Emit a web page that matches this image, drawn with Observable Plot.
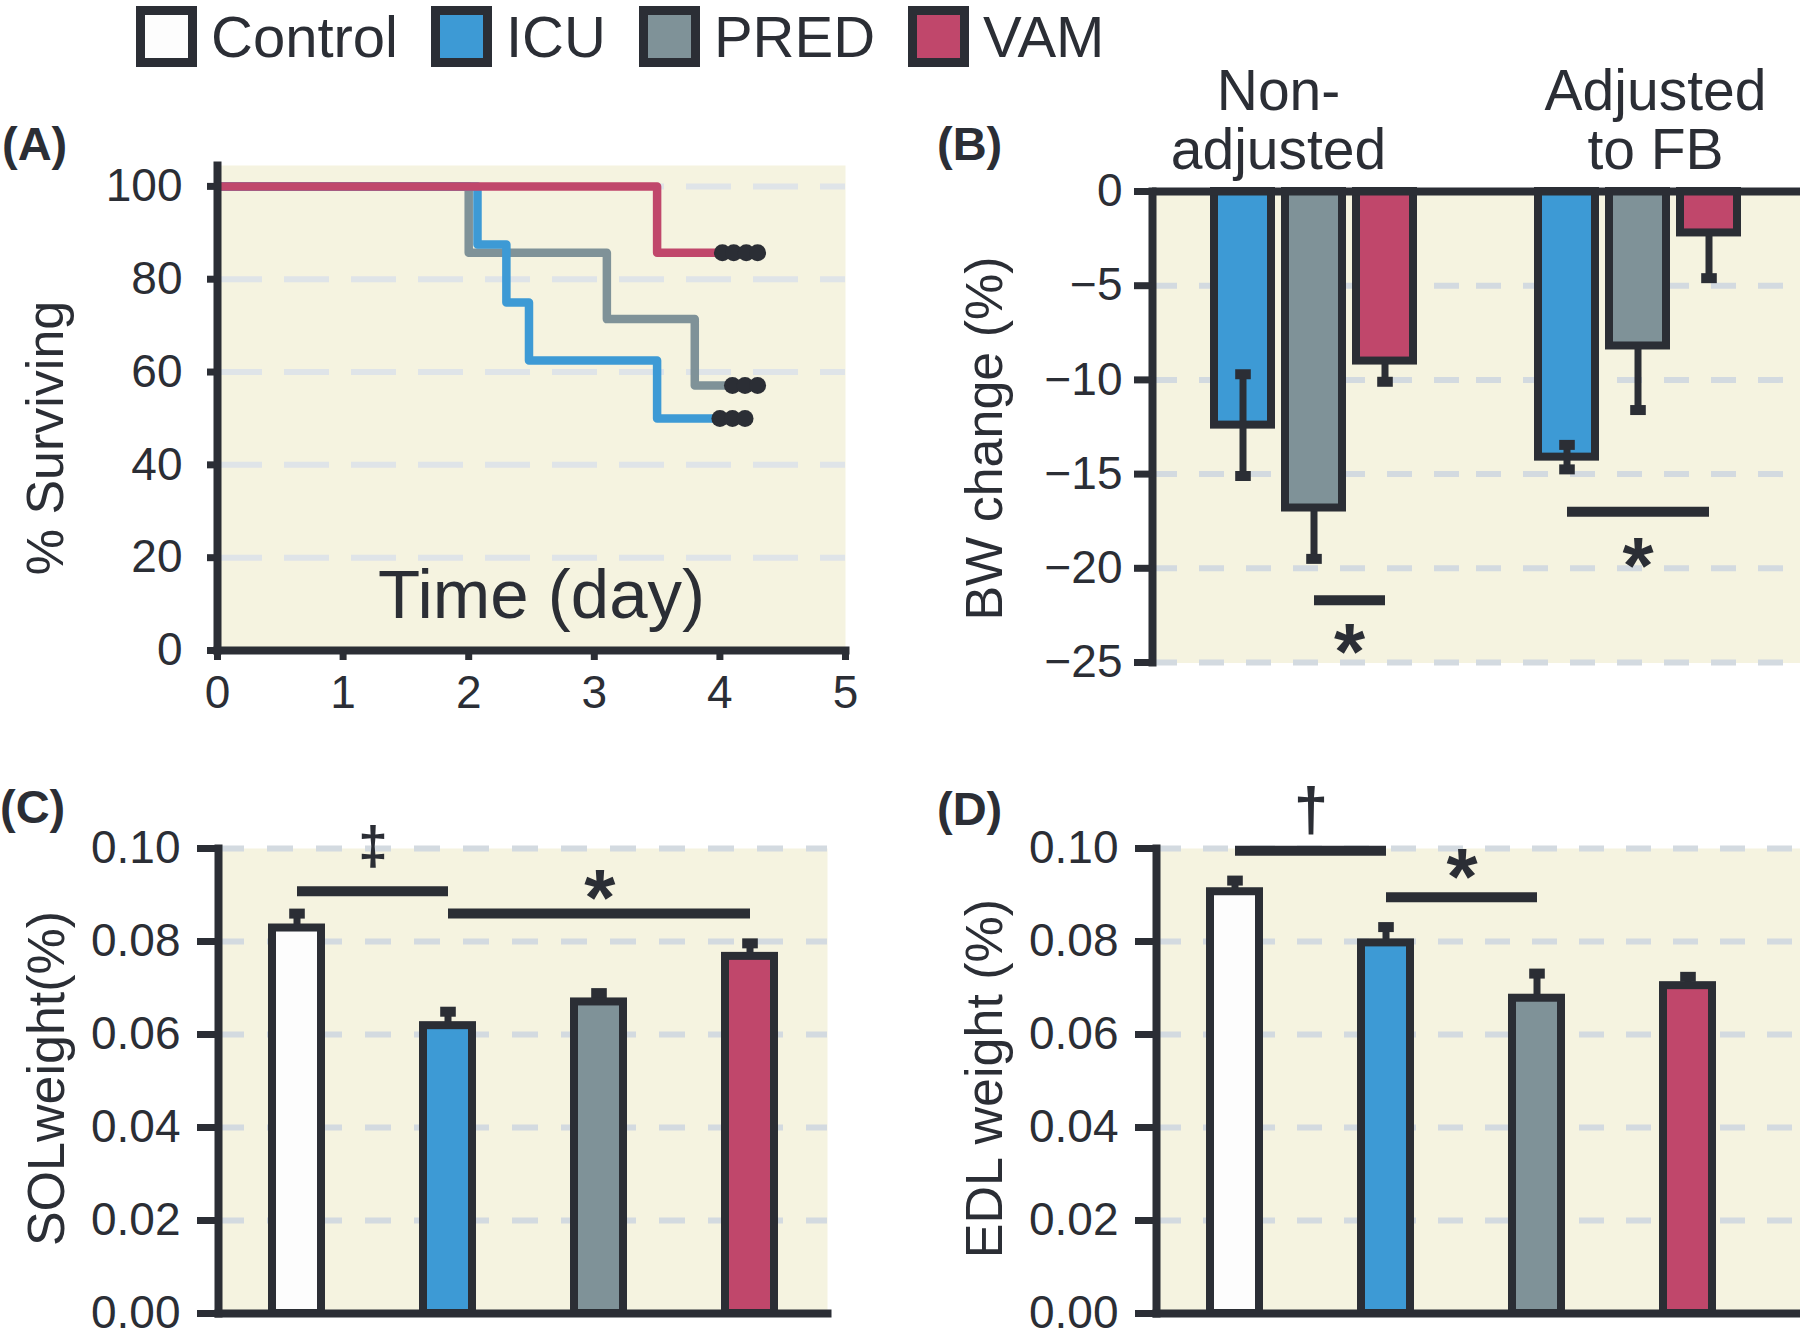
<!DOCTYPE html>
<html>
<head>
<meta charset="utf-8">
<script src="https://cdn.jsdelivr.net/npm/d3@7"></script>
<script src="https://cdn.jsdelivr.net/npm/@observablehq/plot@0.6"></script>
<style>
  html, body { margin: 0; padding: 0; background: #ffffff; }
  #root { position: relative; width: 1800px; height: 1328px; overflow: hidden; background: #ffffff;
          font-family: "Liberation Sans", Arial, Helvetica, sans-serif; color: #2b2e35; }
  .tag { position: absolute; font-weight: bold; font-size: 47px; line-height: 1; color: #2b2e35; }
  .lg-swatch { margin-right: 33px !important; }
  .lg-swatch > svg { box-sizing: border-box; border: 9px solid #2b2e35; margin-right: 14px !important; }
</style>
</head>
<body>
<div id="root"></div>
<script>
// ---------------- data ----------------
const groups = ["Control", "ICU", "PRED", "VAM"];
const groupColors = ["#fdfdfd", "#3d9ad5", "#7f9298", "#c0476b"];

// (A) survival, step points (day, % surviving) and censor marks
const predSurvDay = [0, 2.0, 3.1, 3.8, 4.1];
const predSurvPct = [100, 85.7, 71.4, 57.1, 57.1];
const icuSurvDay = [0, 2.07, 2.3, 2.48, 3.5, 4.0];
const icuSurvPct = [100, 87.5, 75, 62.5, 50, 50];
const vamSurvDay = [0, 3.5, 4.02];
const vamSurvPct = [100, 85.7, 85.7];
const icuCensorDay = [4.0, 4.1, 4.2];
const predCensorDay = [4.1, 4.2, 4.3];
const vamCensorDay = [4.02, 4.11, 4.21, 4.3];
const survTicksX = [0, 1, 2, 3, 4, 5];
const survTicksY = [0, 20, 40, 60, 80, 100];

// (B) body weight change (%)
const bwConditions = ["Non-adjusted", "Adjusted to FB"];
const bwConditionLabels = ["Non-\nadjusted", "Adjusted\nto FB"];
const bwGroups = ["ICU", "PRED", "VAM"];
const bwNonAdjMean = [-12.4, -16.8, -9.0];
const bwNonAdjSE = [2.7, 2.7, 1.1];
const bwAdjMean = [-14.1, -8.2, -2.2];
const bwAdjSE = [0.65, 3.4, 2.4];
const bwErrorOnTop = ["ICU"];
const bwTicks = [0, -5, -10, -15, -20, -25];
const bwSigCondition = ["Non-adjusted", "Adjusted to FB"];
const bwSigFrom = ["PRED", "ICU"];
const bwSigTo = ["VAM", "VAM"];
const bwSigLevel = [-21.7, -17.0];
const bwSigSymbol = ["*", "*"];
const bwSigSymbolLevel = [-23.6, -19.0];

// (C) SOL weight (%)
const solMean = [0.0829, 0.0619, 0.0670, 0.0768];
const solSE = [0.0031, 0.0030, 0.0019, 0.0028];
const solSigFrom = ["Control", "ICU"];
const solSigTo = ["ICU", "VAM"];
const solSigLevel = [0.0908, 0.0860];
const solSigSymbol = ["\u2021", "*"];
const solSigSymbolLevel = [0.1006, 0.0929];

// (D) EDL weight (%)
const edlMean = [0.0907, 0.0797, 0.0678, 0.0705];
const edlSE = [0.0024, 0.0034, 0.0053, 0.0019];
const edlSigFrom = ["Control", "ICU"];
const edlSigTo = ["ICU", "PRED"];
const edlSigLevel = [0.0995, 0.0895];
const edlSigSymbol = ["\u2020", "*"];
const edlSigSymbolLevel = [0.1086, 0.0974];

const weightTicks = [0, 0.02, 0.04, 0.06, 0.08, 0.10];

// ---------------- styling ----------------
const dark = "#2b2e35";
const bgFill = "#f5f3e0";
const textFont = "'Liberation Sans', Arial, Helvetica, sans-serif";
const tickFont = 46;
const color = {domain: groups, range: groupColors};

const root = document.getElementById("root");
const svgStyle = (left, top) => ({
  position: "absolute", left: left + "px", top: top + "px",
  background: "transparent", overflow: "visible",
  fontFamily: textFont, color: dark, maxWidth: "none"
});

// custom cap symbol (wide rectangle) for error bars
const capSymbol = {draw(ctx, size) { const s = Math.sqrt(size); ctx.rect(-0.78 * s, -0.5 * s, 1.56 * s, s); }};
const capR = 10 / Math.sqrt(Math.PI);

function bandStep(width, n, pi, po) { return width / (n - pi + 2 * po); }

function symbolDy(sym, fs) {
  // shift so that the glyph's visual centre sits on the data value
  return sym === "*" ? 0.22 * fs : 0.02 * fs;
}
function symbolSize(sym) { return sym === "*" ? 80 : sym === "\u2020" ? 62 : 53; }

function sigMarks(rows, domain, step, fxKey) {
  const marks = [
    Plot.link(rows, {fx: fxKey, x1: "from", x2: "to", y1: "level", y2: "level", stroke: dark, strokeWidth: 10})
  ];
  for (const r of rows) {
    const fs = symbolSize(r.symbol);
    const dx = (domain.indexOf(r.to) - domain.indexOf(r.from)) / 2 * step;
    marks.push(Plot.text([r], {fx: fxKey, x: "from", y: "symbolLevel", text: "symbol", dx, dy: symbolDy(r.symbol, fs),
      fontSize: fs, fontWeight: "bold", fill: dark}));
  }
  return marks;
}

// ---------------- legend ----------------
const legend = Plot.legend({
  color: {type: "ordinal", domain: groups, range: groupColors},
  legend: "swatches",
  swatchSize: 61,
  className: "lg",
  style: {position: "absolute", left: "136px", top: "3px", margin: "0", fontSize: "58px",
          fontFamily: textFont, color: dark, minHeight: "61px"}
});
root.appendChild(legend);

// ---------------- panel tags ----------------
[["(A)", 2, 120], ["(B)", 937, 120], ["(C)", 0, 783], ["(D)", 937, 785]].forEach(([t, x, y]) => {
  const d = document.createElement("div");
  d.className = "tag"; d.textContent = t; d.style.left = x + "px"; d.style.top = y + "px";
  root.appendChild(d);
});

// ---------------- (A) survival ----------------
const survRows = [
  ...predSurvDay.map((d, i) => ({group: "PRED", day: d, pct: predSurvPct[i]})),
  ...icuSurvDay.map((d, i) => ({group: "ICU", day: d, pct: icuSurvPct[i]})),
  ...vamSurvDay.map((d, i) => ({group: "VAM", day: d, pct: vamSurvPct[i]}))
];
const censorRows = [
  ...icuCensorDay.map(d => ({group: "ICU", day: d, pct: icuSurvPct[icuSurvPct.length - 1]})),
  ...predCensorDay.map(d => ({group: "PRED", day: d, pct: predSurvPct[predSurvPct.length - 1]})),
  ...vamCensorDay.map(d => ({group: "VAM", day: d, pct: vamSurvPct[vamSurvPct.length - 1]}))
];

const panelA = Plot.plot({
  width: 900, height: 678,
  marginLeft: 217, marginRight: 55, marginTop: 103, marginBottom: 90,
  style: svgStyle(0, 62),
  x: {domain: [0, 5]},
  y: {domain: [0, 104.5]},
  color,
  marks: [
    Plot.frame({fill: bgFill, stroke: null}),
    Plot.gridY(survTicksY.filter(d => d > 0), {stroke: "#dfe4e8", strokeOpacity: 1, strokeWidth: 6, strokeDasharray: "45,22"}),
    Plot.line(survRows, {x: "day", y: "pct", z: "group", stroke: "group", curve: "step-after", strokeWidth: 8.5}),
    Plot.dot(censorRows, {x: "day", y: "pct", r: 8.5, fill: dark}),
    Plot.frame({anchor: "left", stroke: dark, strokeWidth: 8}),
    Plot.frame({anchor: "bottom", stroke: dark, strokeWidth: 8}),
    Plot.axisY({ticks: survTicksY, tickFormat: d3.format("d"), tickSize: 10, tickPadding: 25, stroke: dark, strokeWidth: 7,
      fontSize: tickFont, fill: dark, label: null}),
    Plot.axisX({ticks: survTicksX, tickFormat: d3.format("d"), tickSize: 10, tickPadding: 15, stroke: dark, strokeWidth: 7,
      fontSize: tickFont, fill: dark, label: null}),
    Plot.text(["Time (day)"], {frameAnchor: "bottom", textAnchor: "middle", lineAnchor: "bottom", dx: 10, dy: -33, fontSize: 69, fill: dark}),
    Plot.text(["% Surviving"], {frameAnchor: "left", textAnchor: "middle", lineAnchor: "middle", rotate: -90, dx: -171, dy: 30, fontSize: 52, fill: dark})
  ]
});
root.appendChild(panelA);

// ---------------- (B) BW change ----------------
const bwRows = bwConditions.flatMap((c, ci) => bwGroups.map((g, gi) => ({
  condition: c, group: g,
  mean: ci === 0 ? bwNonAdjMean[gi] : bwAdjMean[gi],
  se: ci === 0 ? bwNonAdjSE[gi] : bwAdjSE[gi]
})));
const bwBehind = bwRows.filter(d => !bwErrorOnTop.includes(d.group));
const bwFront = bwRows.filter(d => bwErrorOnTop.includes(d.group));
const bwSigRows = bwSigCondition.map((c, i) => ({condition: c, from: bwSigFrom[i], to: bwSigTo[i],
  level: bwSigLevel[i], symbol: bwSigSymbol[i], symbolLevel: bwSigSymbolLevel[i]}));

const bLeft = 252, bPI = 0.197, bPO = 0.877;
const bStep = bandStep((900 - bLeft) / 2, bwGroups.length, bPI, bPO);

// error bars hidden behind the bar: only the outer (downward) half shows
const errMarksBehind = rows => [
  Plot.ruleX(rows, {fx: "condition", x: "group", y1: "mean", y2: d => d.mean - d.se, stroke: dark, strokeWidth: 7}),
  Plot.dot(rows, {fx: "condition", x: "group", y: d => d.mean - d.se, symbol: capSymbol, r: capR, fill: dark})
];
// error bars drawn over the bar: both halves show
const errMarksFront = rows => [
  Plot.ruleX(rows, {fx: "condition", x: "group", y1: d => d.mean + d.se, y2: d => d.mean - d.se, stroke: dark, strokeWidth: 7}),
  Plot.dot(rows, {fx: "condition", x: "group", y: d => d.mean + d.se, symbol: capSymbol, r: capR, fill: dark}),
  Plot.dot(rows, {fx: "condition", x: "group", y: d => d.mean - d.se, symbol: capSymbol, r: capR, fill: dark})
];

const panelB = Plot.plot({
  width: 900, height: 678,
  marginLeft: bLeft, marginRight: 0, marginTop: 129, marginBottom: 78,
  style: svgStyle(900, 62),
  fx: {domain: bwConditions, padding: 0},
  x: {domain: bwGroups, paddingInner: bPI, paddingOuter: bPO, align: 0.5, axis: null},
  y: {domain: [-25, 0]},
  color,
  marks: [
    Plot.frame({fill: bgFill, stroke: bgFill, strokeWidth: 1}),
    Plot.gridY(bwTicks.filter(d => d < 0), {stroke: "#d3dae0", strokeOpacity: 1, strokeWidth: 6, strokeDasharray: "25,22"}),
    ...errMarksBehind(bwBehind),
    Plot.barY(bwRows, {fx: "condition", x: "group", y: "mean", fill: "group", stroke: dark, strokeWidth: 8}),
    ...errMarksFront(bwFront),
    Plot.ruleY([0], {stroke: dark, strokeWidth: 8}),
    Plot.frame({anchor: "left", facetAnchor: "left", stroke: dark, strokeWidth: 8}),
    Plot.axisY({ticks: bwTicks, tickFormat: d3.format("d"), tickSize: 18, tickPadding: 12, stroke: dark, strokeWidth: 7,
      fontSize: tickFont, fill: dark, label: null}),
    Plot.axisFx({ticks: [bwConditions[0]], anchor: "top", tickSize: 0, tickPadding: 23, dx: -36,
      tickFormat: d => bwConditionLabels[bwConditions.indexOf(d)], fontSize: 57, lineHeight: 1.02, fill: dark, label: null}),
    Plot.axisFx({ticks: [bwConditions[1]], anchor: "top", tickSize: 0, tickPadding: 23, dx: 17,
      tickFormat: d => bwConditionLabels[bwConditions.indexOf(d)], fontSize: 57, lineHeight: 1.02, fill: dark, label: null}),
    ...sigMarks(bwSigRows, bwGroups, bStep, "condition"),
    Plot.text(["BW change (%)"], {frameAnchor: "left", facetAnchor: "left", textAnchor: "middle", lineAnchor: "middle",
      rotate: -90, dx: -167, dy: 11.5, fontSize: 52, fill: dark})
  ]
});
root.appendChild(panelB);

// ---------------- (C) & (D) weights ----------------
function weightPanel({mean, se, sigFrom, sigTo, sigLevel, sigSymbol, sigSymbolLevel, left, right, pi, po, align, pos, ylabel, dash}) {
  const rows = groups.map((g, i) => ({group: g, mean: mean[i], se: se[i]}));
  const sigRows = sigFrom.map((f, i) => ({from: f, to: sigTo[i], level: sigLevel[i], symbol: sigSymbol[i], symbolLevel: sigSymbolLevel[i]}));
  const step = bandStep(900 - left - right, groups.length, pi, po);
  return Plot.plot({
    width: 900, height: 588,
    marginLeft: left, marginRight: right, marginTop: 108, marginBottom: 15,
    style: svgStyle(pos[0], pos[1]),
    x: {domain: groups, paddingInner: pi, paddingOuter: po, align, axis: null},
    y: {domain: [0, 0.1]},
    color,
    marks: [
      Plot.frame({fill: bgFill, stroke: null}),
      Plot.gridY(weightTicks.filter(d => d > 0), {stroke: "#d3dae0", strokeOpacity: 1, strokeWidth: 6, strokeDasharray: dash}),
      Plot.ruleX(rows, {x: "group", y1: d => d.mean - d.se, y2: d => d.mean + d.se, stroke: dark, strokeWidth: 7}),
      Plot.dot(rows, {x: "group", y: d => d.mean + d.se, symbol: capSymbol, r: capR, fill: dark}),
      Plot.barY(rows, {x: "group", y: "mean", fill: "group", stroke: dark, strokeWidth: 8}),
      Plot.frame({anchor: "left", stroke: dark, strokeWidth: 8}),
      Plot.frame({anchor: "bottom", stroke: dark, strokeWidth: 8}),
      Plot.axisY({ticks: weightTicks, tickFormat: d3.format(".2f"), tickSize: 21, tickPadding: 17, stroke: dark, strokeWidth: 7,
        fontSize: tickFont, fill: dark, label: null}),
      ...sigMarks(sigRows, groups, step, undefined),
      Plot.text([ylabel], {frameAnchor: "left", textAnchor: "middle", lineAnchor: "middle", rotate: -90,
        dx: -171, dy: -2.5, fontSize: 52, fill: dark})
    ]
  });
}

root.appendChild(weightPanel({
  mean: solMean, se: solSE, sigFrom: solSigFrom, sigTo: solSigTo, sigLevel: solSigLevel,
  sigSymbol: solSigSymbol, sigSymbolLevel: solSigSymbolLevel,
  left: 218, right: 73, pi: 0.677, po: 0.344, align: 0.5, pos: [0, 740], ylabel: "SOLweight(%)", dash: "26,23"
}));
root.appendChild(weightPanel({
  mean: edlMean, se: edlSE, sigFrom: edlSigFrom, sigTo: edlSigTo, sigLevel: edlSigLevel,
  sigSymbol: edlSigSymbol, sigSymbolLevel: edlSigSymbolLevel,
  left: 256, right: 0, pi: 0.677, po: 0.457, align: 0.38, pos: [900, 740], ylabel: "EDL weight (%)", dash: "25,22"
}));
</script>
</body>
</html>
